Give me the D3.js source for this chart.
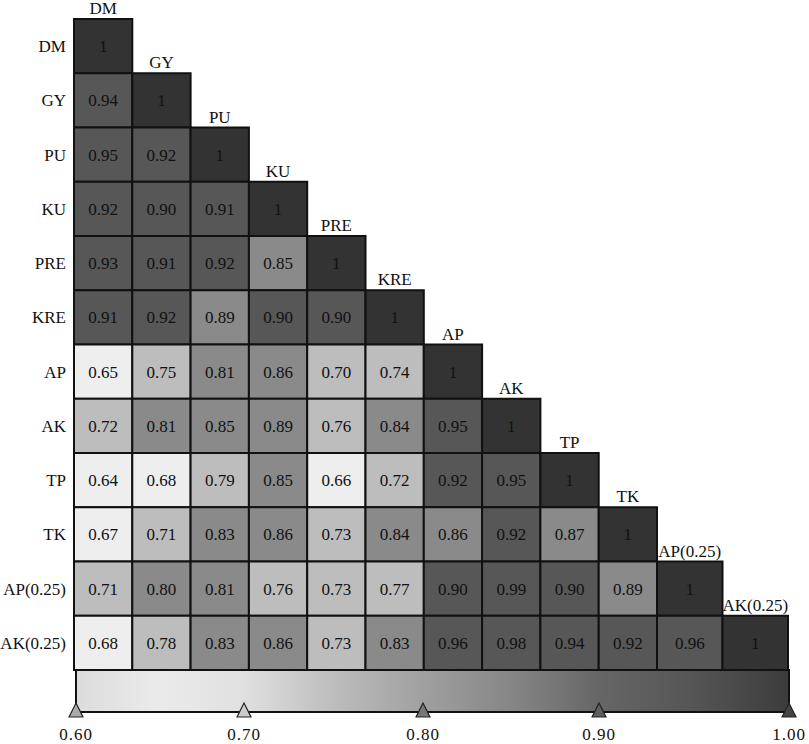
<!DOCTYPE html>
<html>
<head>
<meta charset="utf-8">
<script src="https://cdn.jsdelivr.net/npm/d3@7"></script>
<style>
  body { margin: 0; background: #fff; }
</style>
</head>
<body>
<svg id="chart" width="809" height="744"></svg>
<script>
// trait names, same order for rows and columns
const traits = ['DM', 'GY', 'PU', 'KU', 'PRE', 'KRE', 'AP', 'AK', 'TP', 'TK', 'AP(0.25)', 'AK(0.25)'];

// lower triangle of the correlation matrix, one array per row
const rDM   = [1];
const rGY   = [0.94, 1];
const rPU   = [0.95, 0.92, 1];
const rKU   = [0.92, 0.90, 0.91, 1];
const rPRE  = [0.93, 0.91, 0.92, 0.85, 1];
const rKRE  = [0.91, 0.92, 0.89, 0.90, 0.90, 1];
const rAP   = [0.65, 0.75, 0.81, 0.86, 0.70, 0.74, 1];
const rAK   = [0.72, 0.81, 0.85, 0.89, 0.76, 0.84, 0.95, 1];
const rTP   = [0.64, 0.68, 0.79, 0.85, 0.66, 0.72, 0.92, 0.95, 1];
const rTK   = [0.67, 0.71, 0.83, 0.86, 0.73, 0.84, 0.86, 0.92, 0.87, 1];
const rAP25 = [0.71, 0.80, 0.81, 0.76, 0.73, 0.77, 0.90, 0.99, 0.90, 0.89, 1];
const rAK25 = [0.68, 0.78, 0.83, 0.86, 0.73, 0.83, 0.96, 0.98, 0.94, 0.92, 0.96, 1];

// colour bar ticks
const barTicks = [0.60, 0.70, 0.80, 0.90, 1.00];
const barTickLabels = ['0.60', '0.70', '0.80', '0.90', '1.00'];

const matrix = [rDM, rGY, rPU, rKU, rPRE, rKRE, rAP, rAK, rTP, rTK, rAP25, rAK25];

const cells = [];
matrix.forEach((row, i) => {
  row.forEach((v, j) => cells.push({ i, j, v }));
});

const FONT = '"Liberation Serif", "Times New Roman", "DejaVu Serif", serif';

const svg = d3.select('#chart')
  .attr('font-family', FONT);

// column edges: last two columns are a little wider in the original
const x = d3.scaleLinear().domain([0, 10, 12]).range([74, 657, 788]);
const y = d3.scaleLinear().domain([0, 12]).range([19, 670]);

const color = d3.scaleThreshold()
  .domain([0.695, 0.795, 0.895, 0.995])
  .range(['#eeeeee', '#bdbdbd', '#8a8a8a', '#575757', '#333333']);

// cells
const g = svg.append('g');
g.selectAll('rect')
  .data(cells)
  .enter().append('rect')
  .attr('x', d => x(d.j))
  .attr('y', d => y(d.i))
  .attr('width', d => x(d.j + 1) - x(d.j))
  .attr('height', d => y(d.i + 1) - y(d.i))
  .attr('fill', d => color(d.v))
  .attr('stroke', '#111')
  .attr('stroke-width', 2);

g.selectAll('text')
  .data(cells)
  .enter().append('text')
  .attr('x', d => (x(d.j) + x(d.j + 1)) / 2)
  .attr('y', d => (y(d.i) + y(d.i + 1)) / 2)
  .attr('dy', '0.35em')
  .attr('text-anchor', 'middle')
  .attr('font-family', FONT)
  .attr('font-size', 17)
  .attr('fill', '#111')
  .text(d => d.v === 1 ? '1' : d3.format('.2f')(d.v));

// row labels
svg.append('g').selectAll('text')
  .data(traits)
  .enter().append('text')
  .attr('x', 66)
  .attr('y', (d, i) => (y(i) + y(i + 1)) / 2)
  .attr('dy', '0.35em')
  .attr('text-anchor', 'end')
  .attr('font-family', FONT)
  .attr('font-size', 17)
  .attr('fill', '#111')
  .text(d => d);

// column labels above each diagonal cell
svg.append('g').selectAll('text')
  .data(traits)
  .enter().append('text')
  .attr('x', (d, i) => (x(i) + x(i + 1)) / 2)
  .attr('y', (d, i) => y(i) - 5)
  .attr('text-anchor', 'middle')
  .attr('font-family', FONT)
  .attr('font-size', 17)
  .attr('fill', '#111')
  .text(d => d);

// colour bar
const barTop = 670, barBottom = 712;
const bx = d3.scaleLinear().domain(barTicks).range([76, 244, 423, 599, 789]);

const grad = svg.append('defs').append('linearGradient')
  .attr('id', 'bar-grad')
  .attr('x1', '0%').attr('x2', '100%');
const gradStops = [
  [0.60, '#dcdcdc'], [0.65, '#ebebeb'], [0.70, '#e0e0e0'], [0.75, '#bdbdbd'],
  [0.80, '#a0a0a0'], [0.85, '#868686'], [0.90, '#666666'], [0.95, '#555555'], [1.00, '#3c3c3c']
];
grad.selectAll('stop')
  .data(gradStops)
  .enter().append('stop')
  .attr('offset', d => ((bx(d[0]) - bx(0.6)) / (bx(1) - bx(0.6)) * 100) + '%')
  .attr('stop-color', d => d[1]);

svg.append('rect')
  .attr('x', bx(0.6))
  .attr('y', barTop)
  .attr('width', bx(1) - bx(0.6))
  .attr('height', barBottom - barTop)
  .attr('fill', 'url(#bar-grad)')
  .attr('stroke', '#111')
  .attr('stroke-width', 2);

const triFill = d3.scaleLinear()
  .domain(barTicks)
  .range(['#aaaaaa', '#cccccc', '#777777', '#5e5e5e', '#444444']);

svg.append('g').selectAll('path')
  .data(barTicks)
  .enter().append('path')
  .attr('d', d => {
    const cx = bx(d);
    return `M${cx - 7},${barBottom + 5} L${cx},${barBottom - 9} L${cx + 7},${barBottom + 5} Z`;
  })
  .attr('fill', d => triFill(d))
  .attr('stroke', '#222')
  .attr('stroke-width', 1.2);

svg.append('g').selectAll('text')
  .data(barTicks)
  .enter().append('text')
  .attr('x', d => bx(d))
  .attr('y', 740)
  .attr('text-anchor', 'middle')
  .attr('font-family', FONT)
  .attr('font-size', 17)
  .attr('letter-spacing', '1px')
  .attr('fill', '#111')
  .text((d, i) => barTickLabels[i]);
</script>
</body>
</html>
